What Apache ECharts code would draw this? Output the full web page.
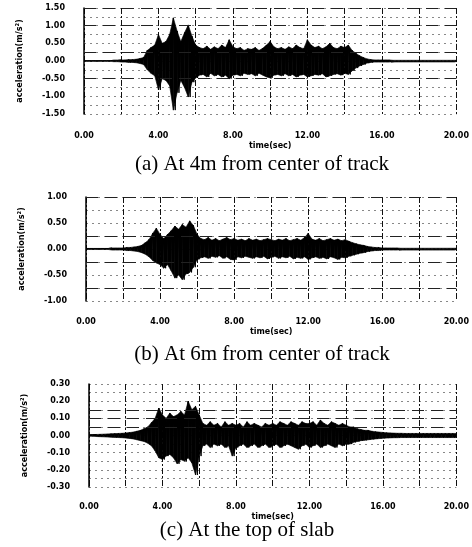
<!DOCTYPE html>
<html><head><meta charset="utf-8">
<script src="https://cdn.jsdelivr.net/npm/echarts@6/dist/echarts.min.js"></script>
<style>html,body{margin:0;padding:0;background:#fff}#c{width:472px;height:547px}</style>
</head><body><div id="c"></div>
<script>
// time step of envelope samples (s)
const step = 0.2;

// Panel (a) At 4m from center of track
const upperA = [0.01,0.01,0.01,0.01,0.01,0.01,0.01,0.01,0.02,0.02,
  0.03,0.03,0.04,0.04,0.05,0.07,0.10,0.30,0.38,0.45,
  0.75,0.50,0.55,0.75,1.22,0.85,0.55,0.80,1.02,0.70,
  0.45,0.38,0.35,0.42,0.33,0.40,0.35,0.45,0.38,0.60,
  0.40,0.35,0.38,0.30,0.35,0.33,0.38,0.30,0.36,0.45,
  0.55,0.40,0.35,0.38,0.33,0.40,0.35,0.45,0.38,0.35,
  0.60,0.45,0.38,0.42,0.35,0.40,0.50,0.38,0.35,0.42,
  0.38,0.45,0.30,0.22,0.15,0.10,0.06,0.04,0.03,0.03,
  0.03,0.03,0.03,0.02,0.02,0.02,0.02,0.02,0.02,0.02,
  0.02,0.02,0.02,0.02,0.02,0.02,0.02,0.02,0.02,0.02,0.02];
const lowerA = [-0.01,-0.01,-0.01,-0.01,-0.01,-0.01,-0.01,-0.01,-0.02,-0.02,
  -0.03,-0.03,-0.04,-0.04,-0.05,-0.07,-0.10,-0.25,-0.35,-0.42,
  -0.82,-0.50,-0.55,-0.70,-1.39,-0.90,-0.55,-0.75,-1.02,-0.60,
  -0.48,-0.40,-0.38,-0.45,-0.35,-0.42,-0.38,-0.45,-0.40,-0.50,
  -0.40,-0.38,-0.42,-0.35,-0.38,-0.36,-0.42,-0.35,-0.40,-0.45,
  -0.48,-0.40,-0.38,-0.42,-0.36,-0.42,-0.38,-0.45,-0.40,-0.38,
  -0.45,-0.42,-0.38,-0.40,-0.36,-0.45,-0.42,-0.38,-0.36,-0.40,
  -0.35,-0.38,-0.28,-0.20,-0.14,-0.10,-0.06,-0.04,-0.03,-0.03,
  -0.03,-0.03,-0.03,-0.02,-0.02,-0.02,-0.02,-0.02,-0.02,-0.02,
  -0.02,-0.02,-0.02,-0.02,-0.02,-0.02,-0.02,-0.02,-0.02,-0.02,-0.02];

// Panel (b) At 6m from center of track
const upperB = [0.01,0.01,0.01,0.01,0.01,0.01,0.01,0.02,0.02,0.02,
  0.02,0.03,0.03,0.04,0.05,0.07,0.12,0.18,0.30,0.40,
  0.28,0.20,0.28,0.35,0.44,0.38,0.47,0.42,0.54,0.45,
  0.28,0.20,0.18,0.22,0.17,0.20,0.16,0.19,0.22,0.18,
  0.20,0.17,0.19,0.16,0.20,0.17,0.19,0.16,0.18,0.20,
  0.18,0.16,0.19,0.17,0.20,0.16,0.18,0.20,0.17,0.22,
  0.30,0.19,0.17,0.20,0.16,0.18,0.20,0.17,0.19,0.16,
  0.18,0.15,0.12,0.10,0.08,0.07,0.05,0.04,0.03,0.03,
  0.02,0.02,0.02,0.02,0.02,0.015,0.015,0.015,0.015,0.015,
  0.015,0.015,0.015,0.015,0.015,0.015,0.015,0.015,0.015,0.015,0.015];
const lowerB = [-0.01,-0.01,-0.01,-0.01,-0.01,-0.01,-0.01,-0.02,-0.02,-0.02,
  -0.02,-0.03,-0.03,-0.04,-0.05,-0.07,-0.10,-0.15,-0.22,-0.27,
  -0.30,-0.37,-0.30,-0.42,-0.56,-0.50,-0.59,-0.48,-0.45,-0.35,
  -0.20,-0.17,-0.15,-0.18,-0.14,-0.16,-0.13,-0.18,-0.15,-0.20,
  -0.21,-0.15,-0.17,-0.14,-0.16,-0.18,-0.15,-0.17,-0.14,-0.19,
  -0.16,-0.14,-0.18,-0.15,-0.17,-0.14,-0.19,-0.16,-0.18,-0.15,
  -0.20,-0.17,-0.15,-0.18,-0.16,-0.19,-0.15,-0.17,-0.20,-0.16,
  -0.17,-0.14,-0.12,-0.10,-0.08,-0.07,-0.05,-0.04,-0.03,-0.03,
  -0.02,-0.02,-0.02,-0.02,-0.02,-0.015,-0.015,-0.015,-0.015,-0.015,
  -0.015,-0.015,-0.015,-0.015,-0.015,-0.015,-0.015,-0.015,-0.015,-0.015,-0.015];

// Panel (c) At the top of slab
const upperC = [0.004,0.005,0.006,0.007,0.008,0.009,0.010,0.011,0.012,0.013,
  0.015,0.017,0.020,0.025,0.030,0.040,0.050,0.075,0.10,0.16,
  0.12,0.10,0.13,0.11,0.12,0.14,0.12,0.20,0.15,0.17,
  0.12,0.07,0.06,0.08,0.06,0.07,0.05,0.08,0.06,0.07,
  0.06,0.07,0.05,0.08,0.06,0.07,0.06,0.05,0.07,0.06,
  0.07,0.06,0.08,0.07,0.06,0.08,0.07,0.06,0.08,0.07,
  0.07,0.08,0.06,0.09,0.07,0.06,0.08,0.07,0.06,0.07,
  0.06,0.05,0.05,0.04,0.035,0.03,0.03,0.025,0.022,0.02,
  0.018,0.016,0.015,0.014,0.013,0.013,0.012,0.012,0.012,0.012,
  0.012,0.012,0.012,0.012,0.012,0.012,0.012,0.012,0.012,0.012,0.012];
const lowerC = [-0.004,-0.005,-0.006,-0.007,-0.008,-0.009,-0.010,-0.011,-0.012,-0.013,
  -0.015,-0.017,-0.020,-0.025,-0.030,-0.035,-0.045,-0.06,-0.09,-0.13,
  -0.14,-0.12,-0.11,-0.13,-0.165,-0.14,-0.15,-0.13,-0.16,-0.23,
  -0.12,-0.06,-0.05,-0.07,-0.05,-0.06,-0.05,-0.07,-0.06,-0.12,
  -0.07,-0.06,-0.05,-0.07,-0.06,-0.05,-0.07,-0.06,-0.05,-0.07,
  -0.06,-0.05,-0.07,-0.06,-0.05,-0.06,-0.07,-0.08,-0.06,-0.05,
  -0.07,-0.06,-0.05,-0.07,-0.06,-0.05,-0.06,-0.07,-0.05,-0.06,
  -0.05,-0.05,-0.04,-0.035,-0.03,-0.028,-0.025,-0.022,-0.02,-0.018,
  -0.016,-0.015,-0.014,-0.013,-0.013,-0.012,-0.012,-0.012,-0.012,-0.012,
  -0.012,-0.012,-0.012,-0.012,-0.012,-0.012,-0.012,-0.012,-0.012,-0.012,-0.012];

// dashed reference levels seen in each panel
const dashedA = [1.5, 1.0, 0.25, -0.5];
const dashedB = [1.0, 0.25, -0.25, -0.75];
const dashedC = [0.15, 0.10, 0.05];

const captions = ['(a) At 4m from center of track', '(b) At 6m from center of track', '(c) At the top of slab'];
const yName = 'acceleration(m/s²)';
const xName = 'time(sec)';

function zig(up, low) {
  const out = [];
  for (let i = 0; i < up.length; i++) {
    const t = +(i * step).toFixed(2);
    out.push([t, up[i]]);
    if (i < up.length - 1) out.push([+(t + step / 2).toFixed(2), low[i]]);
  }
  return out;
}
// band segments: [t0, up0, low0, t1, up1, low1]
function bands(up, low) {
  const out = [];
  for (let i = 0; i < up.length - 1; i++) {
    out.push([+(i * step).toFixed(2), up[i], low[i], +((i + 1) * step).toFixed(2), up[i + 1], low[i + 1]]);
  }
  return out;
}
function renderBand(params, api) {
  const p1 = api.coord([api.value(0), api.value(1)]);
  const p2 = api.coord([api.value(3), api.value(4)]);
  const p3 = api.coord([api.value(3), api.value(5)]);
  const p4 = api.coord([api.value(0), api.value(2)]);
  return {
    type: 'polygon',
    shape: {points: [p1, p2, p3, p4]},
    style: {fill: '#000', stroke: '#000', lineWidth: 0.6}
  };
}

const grids = [
  {left: 84, top: 8, width: 375, height: 106},
  {left: 86, top: 197, width: 373, height: 104},
  {left: 89, top: 384, width: 368, height: 103}
];
const yCfg = [
  {min: -1.5, max: 1.5, interval: 0.5},
  {min: -1.0, max: 1.0, interval: 0.5},
  {min: -0.3, max: 0.3, interval: 0.1}
];
const lblMargin = [18, 17, 16];
const nameGaps = [28, 27, 26];
const ups = [upperA, upperB, upperC], lows = [lowerA, lowerB, lowerC];
const dashes = [dashedA, dashedB, dashedC];

const lblFont = {fontFamily: 'DejaVu Sans', fontWeight: 'bold', fontSize: 8, color: '#000'};
const vDash = {color: '#111', width: 1, type: [6, 2, 2, 2]};
const dotted = {color: '#888', width: 1, type: [2, 4]};

const series = [];
grids.forEach((g, i) => {
  series.push({
    type: 'custom', xAxisIndex: i, yAxisIndex: i,
    data: bands(ups[i], lows[i]),
    encode: {x: [0, 3], y: [1, 2, 4, 5]},
    renderItem: renderBand, clip: true, z: 3
  });
  series.push({
    type: 'line', xAxisIndex: i, yAxisIndex: i,
    data: zig(ups[i], lows[i]),
    showSymbol: false, symbol: 'none',
    lineStyle: {color: '#000', width: 1}, z: 4,
    markLine: {
      silent: true, symbol: 'none', label: {show: false},
      lineStyle: {color: '#222', width: 1.2, type: [12, 7]},
      data: dashes[i].map(v => ({yAxis: v}))
    }
  });
});

const option = {
  animation: false,
  backgroundColor: '#fff',
  grid: grids,
  xAxis: grids.map((g, i) => ({
    type: 'value', gridIndex: i, min: 0, max: 20, interval: 4,
    name: xName, nameLocation: 'middle', nameGap: nameGaps[i],
    nameTextStyle: lblFont,
    axisLine: {show: false}, axisTick: {show: false},
    axisLabel: Object.assign({margin: lblMargin[i], formatter: v => v.toFixed(2)}, lblFont),
    splitLine: {show: true, lineStyle: vDash},
    minorTick: {show: false, splitNumber: 2},
    minorSplitLine: {show: true, lineStyle: vDash}
  })),
  yAxis: grids.map((g, i) => ({
    type: 'value', gridIndex: i, min: yCfg[i].min, max: yCfg[i].max, interval: yCfg[i].interval,
    name: yName, nameLocation: 'middle', nameRotate: 90, nameGap: 60,
    nameTextStyle: {fontFamily: 'DejaVu Sans Condensed', fontWeight: 'bold', fontSize: 9, color: '#000'},
    axisLine: {show: true, lineStyle: {color: '#000', width: 1.5}},
    axisTick: {show: false},
    axisLabel: Object.assign({margin: 19, formatter: v => v.toFixed(2)}, lblFont),
    splitLine: {show: true, lineStyle: dotted},
    minorTick: {show: false, splitNumber: 2},
    minorSplitLine: {show: true, lineStyle: dotted}
  })),
  series: series,
  graphic: [
    {type: 'text', x: 262, y: 154, style: {text: captions[0], font: '21px "Liberation Serif"', fill: '#000', textAlign: 'center'}},
    {type: 'text', x: 262, y: 344, style: {text: captions[1], font: '21px "Liberation Serif"', fill: '#000', textAlign: 'center'}},
    {type: 'text', x: 247, y: 520, style: {text: captions[2], font: '21px "Liberation Serif"', fill: '#000', textAlign: 'center'}}
  ]
};
const chart = echarts.init(document.getElementById('c'), null, {renderer: 'canvas'});
chart.setOption(option);
</script></body></html>
